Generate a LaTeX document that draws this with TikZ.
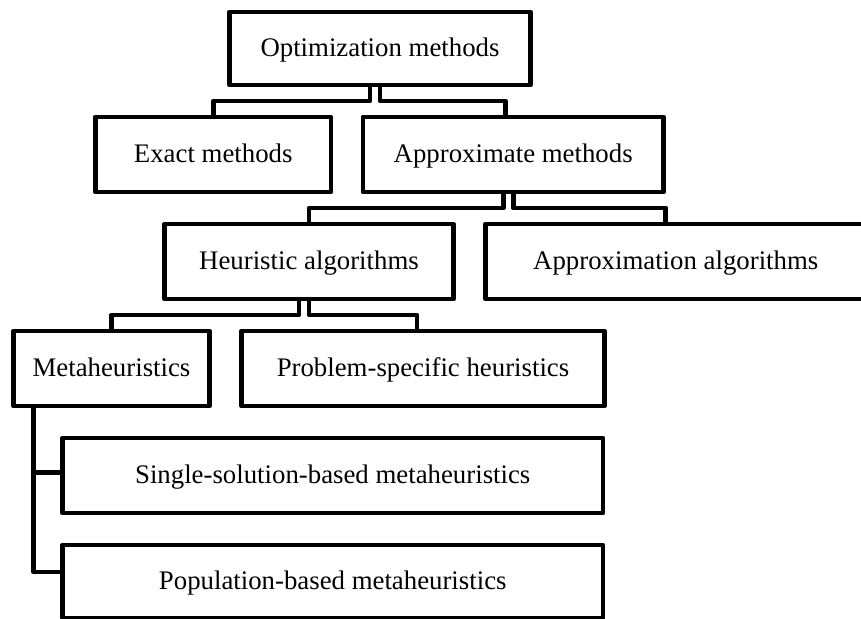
\documentclass[tikz,border=0pt]{standalone}
\usepackage{fontspec}
\setmainfont{Liberation Serif}
\usetikzlibrary{positioning}

\begin{document}
\begin{tikzpicture}[
		node distance=16pt,
		block/.style={draw, line width=2.4pt, line join=round, outer sep=0pt, inner sep=0pt, minimum height=37.5pt, text height=10pt, text depth=2pt, align=center, font=\fontsize{13.4}{16}\selectfont},
		link/.style={draw, line width=2.4pt, line join=round},
	]
		\useasboundingbox (0,0) rectangle (430.5pt,-309.5pt);
		\clip (0,0) rectangle (430.5pt,-309.5pt);
		\fill[white] (0,0) rectangle (430.5pt,-309.5pt);

		\node[block, minimum width=150.5pt, minimum height=36.5pt] (opt) at (190pt,-24.25pt) {Optimization methods};
		\node[block, minimum width=117.75pt, below=of opt, xshift=-83.4pt] (exact) {Exact methods};
		\node[block, minimum width=150.25pt, right=of exact] (approx) {Approximate methods};
		\node[block, minimum width=144.5pt, below=of exact, xshift=47.9pt] (heur) {Heuristic algorithms};
		\node[block, minimum width=190.25pt, right=of heur] (approxalg) {Approximation algorithms};
		\node[block, minimum width=98pt, below=of heur, xshift=-98.75pt] (meta) {Metaheuristics};
		\node[block, minimum width=181.5pt, right=of meta] (prob) {Problem-specific heuristics};
		\node[block, minimum width=270.25pt, below=of meta.south west, anchor=north west, xshift=24.5pt] (single) {Single-solution-based metaheuristics};
		\node[block, minimum width=270.25pt, minimum height=36.5pt, below=of single] (pop) {Population-based metaheuristics};

		\draw[link] ([xshift=-5pt]opt.south) -- ++(0,-8pt) -| (exact.north);
		\draw[link] (opt.south) -- ++(0,-8pt) -| ([xshift=-4pt]approx.north);
		\draw[link] ([xshift=-5pt]approx.south) -- ++(0,-8pt) -| (heur.north);
		\draw[link] (approx.south) -- ++(0,-8pt) -| ([xshift=-5pt]approxalg.north);
		\draw[link] ([xshift=-5pt]heur.south) -- ++(0,-8pt) -| (meta.north);
		\draw[link] (heur.south) -- ++(0,-8pt) -| ([xshift=-3pt]prob.north);
		\draw[link] ([xshift=10pt]meta.south west) |- ([yshift=1.5pt]single.west);
		\draw[link] ([xshift=10pt]meta.south west) |- ([yshift=4.75pt]pop.west);
	\end{tikzpicture}
\end{document}
